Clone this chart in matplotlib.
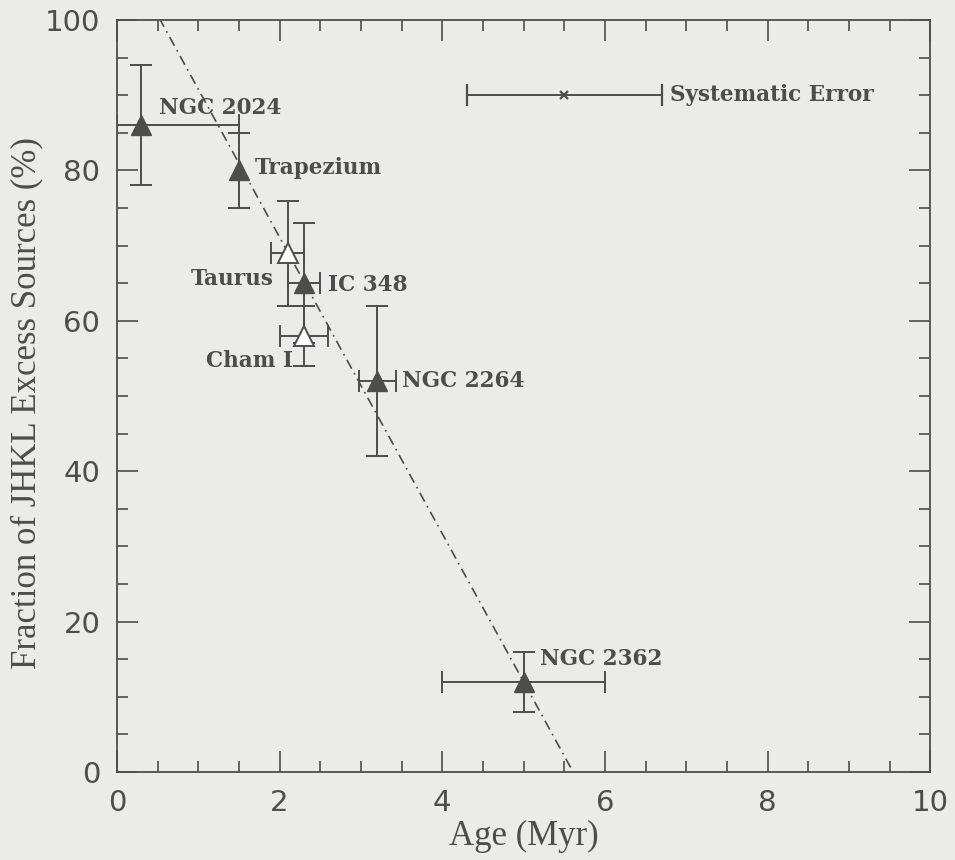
import matplotlib
matplotlib.use("Agg")
import matplotlib.pyplot as plt
import numpy as np

# Cluster data: age (Myr), excess fraction (%), and their uncertainties
clusters = ["NGC 2024", "Trapezium", "IC 348", "NGC 2264", "NGC 2362"]
ages = [0.3, 1.5, 2.3, 3.2, 5.0]
age_err_lo = [0.3, 0.0, 0.2, 0.23, 1.0]
age_err_hi = [1.2, 0.0, 0.2, 0.23, 1.0]
fractions = [86, 80, 65, 52, 12]
frac_err = [8, 5, 8, 10, 4]

# Clouds shown with open symbols
clouds = ["Taurus", "Cham I"]
cloud_ages = [2.1, 2.3]
cloud_age_err = [0.2, 0.3]
cloud_fractions = [69, 58]
cloud_frac_err = [7, 4]

# Systematic age error bar
sys_age = 5.5
sys_frac = 90
sys_err_lo = 1.2
sys_err_hi = 1.2

# Linear fit: fraction = intercept + slope * age
fit_intercept = 110.5
fit_slope = -19.7

bg = "#ebebe8"
ink = "#4d4d4d"

fig = plt.figure(figsize=(9.55, 8.6), dpi=100, facecolor=bg)
ax = fig.add_axes([0.1225, 0.1023, 0.8515, 0.8744], facecolor=bg)

# Fit line
xf = np.linspace(0, 10, 200)
yf = fit_intercept + fit_slope * xf
ax.plot(xf, yf, color=ink, lw=1.2, ls=(0, (6, 3, 1, 3)), zorder=1)

# Clusters (filled triangles)
ax.errorbar(ages, fractions, yerr=frac_err, xerr=[age_err_lo, age_err_hi],
            fmt="^", ms=14, color=ink, mfc=ink, mec=ink, ecolor=ink,
            elinewidth=1.4, capsize=8, capthick=1.4, zorder=3)

# Clouds (open triangles)
ax.errorbar(cloud_ages, cloud_fractions, yerr=cloud_frac_err, xerr=cloud_age_err,
            fmt="^", ms=14, color=ink, mfc="white", mec=ink, mew=1.4, ecolor=ink,
            elinewidth=1.4, capsize=8, capthick=1.4, zorder=3)

# Systematic error
ax.errorbar([sys_age], [sys_frac], xerr=[[sys_err_lo], [sys_err_hi]],
            fmt="x", ms=6, color=ink, mew=1.6, ecolor=ink,
            elinewidth=1.4, capsize=8, capthick=1.4, zorder=3)

lab_font = dict(family="DejaVu Serif", weight="bold", size=15.5, color=ink)
offsets = {
    "NGC 2024": (0.22, 2.3),
    "Trapezium": (0.2, 0.3),
    "IC 348": (0.3, -0.3),
    "NGC 2264": (0.3, 0.0),
    "NGC 2362": (0.2, 3.0),
}
for name, x, y in zip(clusters, ages, fractions):
    dx, dy = offsets[name]
    ax.text(x + dx, y + dy, name, ha="left", va="center", **lab_font)

ax.text(1.93, 65.5, "Taurus", ha="right", va="center", **lab_font)
ax.text(2.17, 54.6, "Cham I", ha="right", va="center", **lab_font)
ax.text(sys_age + sys_err_hi + 0.1, sys_frac, "Systematic Error",
        ha="left", va="center", **lab_font)

ax.set_xlim(0, 10)
ax.set_ylim(0, 100)
ax.set_xticks(np.arange(0, 10.1, 2))
ax.set_xticks(np.arange(0, 10.1, 0.5), minor=True)
ax.set_yticks(np.arange(0, 100.1, 20))
ax.set_yticks(np.arange(0, 100.1, 5), minor=True)
ax.tick_params(which="both", direction="in", top=True, right=True,
               colors=ink, width=1.2)
ax.tick_params(which="major", length=15, labelsize=21, pad=12)
ax.tick_params(which="minor", length=8)
for lbl in ax.get_xticklabels() + ax.get_yticklabels():
    lbl.set_family("DejaVu Sans")
    lbl.set_color(ink)
for s in ax.spines.values():
    s.set_color(ink)
    s.set_linewidth(1.3)

ax.set_xlabel("Age (Myr)", family="Liberation Serif", size=25, color=ink, labelpad=2)
ax.set_ylabel("Fraction of JHKL Excess Sources (%)", family="Liberation Serif",
              size=25, color=ink)
ax.yaxis.set_label_coords(-0.091, 0.49)

fig.savefig("out.png", dpi=100, facecolor=bg)
